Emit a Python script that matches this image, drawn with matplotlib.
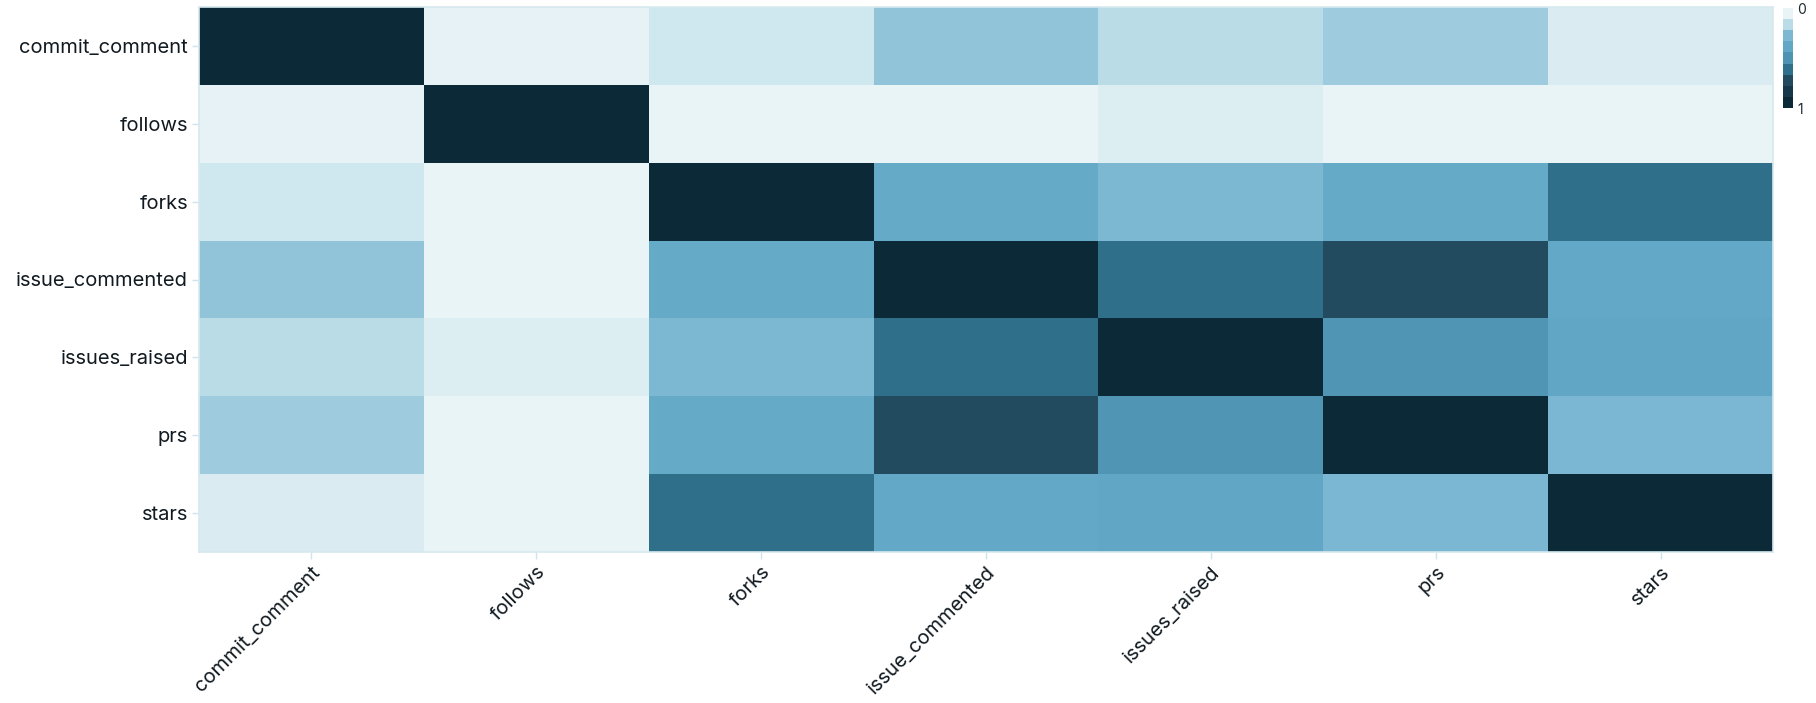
import numpy as np
import matplotlib
matplotlib.use("Agg")
import matplotlib.pyplot as plt
from matplotlib.colors import LinearSegmentedColormap, ListedColormap, Normalize
from matplotlib.cm import ScalarMappable

labels = ['commit_comment', 'follows', 'forks', 'issue_commented',
          'issues_raised', 'prs', 'stars']

commit_comment = [1.00, 0.01, 0.07, 0.21, 0.125, 0.18, 0.04]
follows = [0.01, 1.00, 0.00, 0.00, 0.035, 0.00, 0.00]
forks = [0.07, 0.00, 1.00, 0.36, 0.25, 0.36, 0.625]
issue_commented = [0.21, 0.00, 0.36, 1.00, 0.625, 0.75, 0.37]
issues_raised = [0.125, 0.035, 0.25, 0.625, 1.00, 0.49, 0.38]
prs = [0.18, 0.00, 0.36, 0.75, 0.49, 1.00, 0.26]
stars = [0.04, 0.00, 0.625, 0.37, 0.38, 0.26, 1.00]

matrix = np.array([commit_comment, follows, forks, issue_commented,
                   issues_raised, prs, stars])

palette = ['#e9f4f7', '#b9dce6', '#7db8d3', '#62a8c6', '#4f93b3',
           '#2f708a', '#224b60', '#15384a', '#0b2937']
cmap = LinearSegmentedColormap.from_list('custom', palette)
norm = Normalize(0, 1)

plt.rcParams['font.family'] = ['Inter', 'DejaVu Sans']

fig = plt.figure(figsize=(18.16, 7.03), dpi=100)
ax = fig.add_axes([199/1816, 1 - 552/703, 1574/1816, 545/703])

n = len(labels)
ax.pcolormesh(np.arange(n + 1), np.arange(n + 1), matrix, cmap=cmap, norm=norm)
ax.set_xlim(0, n)
ax.set_ylim(n, 0)

ax.set_xticks(np.arange(n) + 0.5)
ax.set_yticks(np.arange(n) + 0.5)
ax.set_xticklabels(labels, rotation=45, ha='right', rotation_mode='anchor',
                   fontsize=14.5, color='#111a20')
ax.set_yticklabels(labels, fontsize=14.5, color='#111a20')
ax.tick_params(axis='both', length=5, width=1, color='#cfe5ec', pad=3)

for s in ax.spines.values():
    s.set_color('#d6e9ef')
    s.set_linewidth(1.2)

cax = fig.add_axes([1783/1816, 1 - 108/703, 10/1816, 100/703])
band_cmap = ListedColormap(palette)
sm = ScalarMappable(norm=norm, cmap=band_cmap)
cb = fig.colorbar(sm, cax=cax, ticks=[0, 1])
cb.outline.set_visible(False)
cax.invert_yaxis()
cax.tick_params(length=0, labelsize=10, colors='#1b2a33', pad=3)
cb.ax.set_yticklabels(['0', '1'])

fig.savefig('out.png', dpi=100)
